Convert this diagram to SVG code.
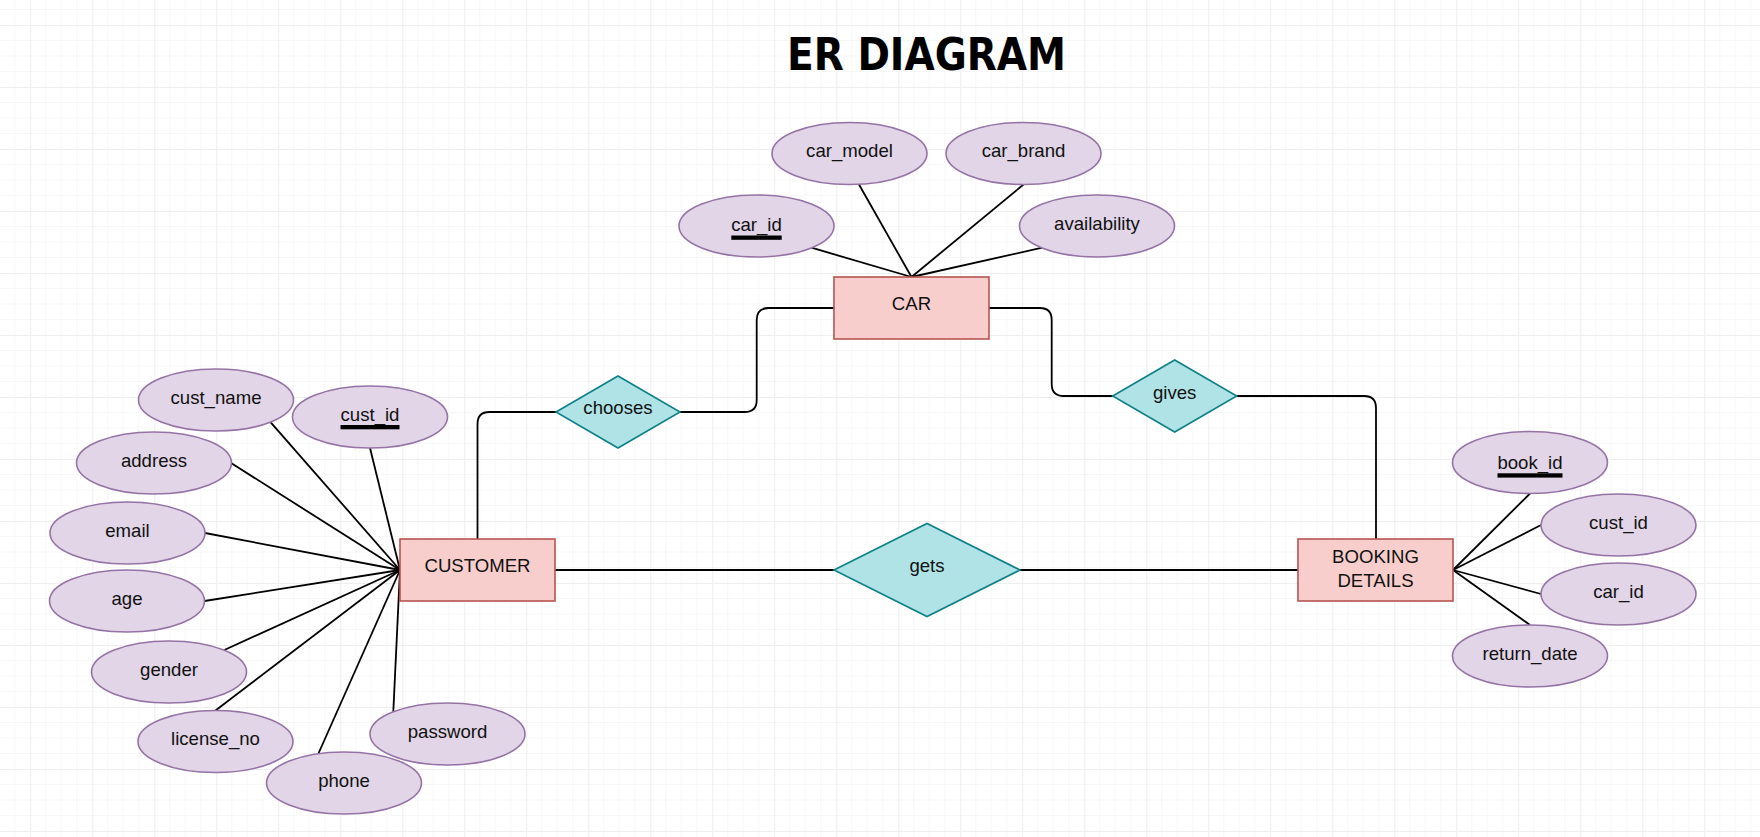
<svg xmlns="http://www.w3.org/2000/svg" width="1760" height="837" viewBox="0 0 1760 837">
  <defs>
    <pattern id="grid" x="30.3" y="25" width="62" height="62" patternUnits="userSpaceOnUse">
      <path d="M15.5,0 V62 M31,0 V62 M46.5,0 V62 M0,15.5 H62 M0,31 H62 M0,46.5 H62" stroke="#f7f7f7" stroke-width="1" fill="none"/>
      <path d="M0.5,0 V62 M0,0.5 H62" stroke="#eeeeee" stroke-width="1" fill="none"/>
    </pattern>
    <style>
      .ent { fill: #f8cecc; stroke: #b85450; stroke-width: 1.6; }
      .att { fill: #e1d5e7; stroke: #9673a6; stroke-width: 1.6; }
      .rel { fill: #b0e3e6; stroke: #0e8088; stroke-width: 1.6; }
      .lbl { font-family: "Liberation Sans", Arial, sans-serif; font-size: 18.6px; fill: #111; text-anchor: middle; }
      .pk { fill: #000; }
      .edge { fill: none; stroke: #000; stroke-width: 1.8; }
      .title { font-family: "DejaVu Sans Condensed", "DejaVu Sans", sans-serif; font-weight: bold; font-size: 45px; fill: #000; }
    </style>
  </defs>
  <rect width="1760" height="837" fill="#ffffff"/>
  <rect width="1760" height="837" fill="url(#grid)"/>

  <text class="title" x="787" y="70" textLength="279" lengthAdjust="spacingAndGlyphs">ER DIAGRAM</text>

  <g id="connectors">
    <!-- customer attributes -->
    <path class="edge" d="M400,570 L270.7,422.3"/>
    <path class="edge" d="M400,570 L370,448"/>
    <path class="edge" d="M400,570 L231.5,463.3"/>
    <path class="edge" d="M400,570 L205,533"/>
    <path class="edge" d="M400,570 L204.5,601"/>
    <path class="edge" d="M400,570 L224.3,650"/>
    <path class="edge" d="M400,570 L215.5,710.5"/>
    <path class="edge" d="M400,570 L318,754.5"/>
    <path class="edge" d="M400,570 L393.3,711.7"/>
    <!-- car attributes -->
    <path class="edge" d="M911.5,277 L811.5,247.7"/>
    <path class="edge" d="M911.5,277 L859,184.5"/>
    <path class="edge" d="M911.5,277 L1023.5,184.5"/>
    <path class="edge" d="M911.5,277 L1042.2,247.7"/>
    <!-- booking attributes -->
    <path class="edge" d="M1453,570 L1530,493.5"/>
    <path class="edge" d="M1453,570 L1541,525"/>
    <path class="edge" d="M1453,570 L1541,594"/>
    <path class="edge" d="M1453,570 L1530,625"/>
    <!-- relationships -->
    <path class="edge" d="M477.5,539 L477.5,424 Q477.5,412 489.5,412 L556,412"/>
    <path class="edge" d="M680,412 L744.7,412 Q756.7,412 756.7,400 L756.7,320 Q756.7,308 768.7,308 L834,308"/>
    <path class="edge" d="M989,308 L1039.7,308 Q1051.7,308 1051.7,320 L1051.7,384 Q1051.7,396 1063.7,396 L1112.7,396"/>
    <path class="edge" d="M1236.7,396 L1364,396 Q1376,396 1376,408 L1376,539"/>
    <path class="edge" d="M555,570 L834,570"/>
    <path class="edge" d="M1020,570 L1298,570"/>
  </g>

  <g id="customer">
    <rect class="ent" x="400" y="539" width="155" height="62"/>
    <text class="lbl" x="477.5" y="572">CUSTOMER</text>
  </g>
  <g id="car">
    <rect class="ent" x="834" y="277" width="155" height="62"/>
    <text class="lbl" x="911.5" y="310">CAR</text>
  </g>
  <g id="booking_details">
    <rect class="ent" x="1298" y="539" width="155" height="62"/>
    <text class="lbl" x="1375.5" y="563.3">BOOKING</text>
    <text class="lbl" x="1375.5" y="586.7">DETAILS</text>
  </g>

  <g id="chooses">
    <polygon class="rel" points="556,412 618,376 680,412 618,448"/>
    <text class="lbl" x="618" y="414">chooses</text>
  </g>
  <g id="gives">
    <polygon class="rel" points="1112.7,396 1174.7,360 1236.7,396 1174.7,432"/>
    <text class="lbl" x="1174.7" y="398.5">gives</text>
  </g>
  <g id="gets">
    <polygon class="rel" points="834,570 927,523.5 1020,570 927,616.5"/>
    <text class="lbl" x="927" y="572">gets</text>
  </g>

  <g id="attr_cust_name">
    <ellipse class="att" cx="216" cy="400" rx="77.5" ry="31"/>
    <text class="lbl" x="216" y="403.5">cust_name</text>
  </g>
  <g id="attr_cust_id">
    <ellipse class="att" cx="370" cy="417" rx="77.5" ry="31"/>
    <text class="lbl" x="370" y="421">cust_id</text>
    <rect class="pk" x="340.5" y="425" width="59" height="4.3"/>
  </g>
  <g id="attr_address">
    <ellipse class="att" cx="154" cy="463" rx="77.5" ry="31"/>
    <text class="lbl" x="154" y="466.5">address</text>
  </g>
  <g id="attr_email">
    <ellipse class="att" cx="127.5" cy="533" rx="77.5" ry="31"/>
    <text class="lbl" x="127.5" y="536.5">email</text>
  </g>
  <g id="attr_age">
    <ellipse class="att" cx="127" cy="601" rx="77.5" ry="31"/>
    <text class="lbl" x="127" y="604.5">age</text>
  </g>
  <g id="attr_gender">
    <ellipse class="att" cx="169" cy="672" rx="77.5" ry="31"/>
    <text class="lbl" x="169" y="675.5">gender</text>
  </g>
  <g id="attr_license_no">
    <ellipse class="att" cx="215.5" cy="741.5" rx="77.5" ry="31"/>
    <text class="lbl" x="215.5" y="745">license_no</text>
  </g>
  <g id="attr_phone">
    <ellipse class="att" cx="344" cy="783" rx="77.5" ry="31"/>
    <text class="lbl" x="344" y="786.5">phone</text>
  </g>
  <g id="attr_password">
    <ellipse class="att" cx="447.5" cy="734" rx="77.5" ry="31"/>
    <text class="lbl" x="447.5" y="737.5">password</text>
  </g>

  <g id="attr_car_id">
    <ellipse class="att" cx="756.5" cy="226" rx="77.5" ry="31"/>
    <text class="lbl" x="756.5" y="231">car_id</text>
    <rect class="pk" x="731.3" y="235.5" width="50.4" height="4.3"/>
  </g>
  <g id="attr_car_model">
    <ellipse class="att" cx="849.5" cy="153.5" rx="77.5" ry="31"/>
    <text class="lbl" x="849.5" y="157">car_model</text>
  </g>
  <g id="attr_car_brand">
    <ellipse class="att" cx="1023.5" cy="153.5" rx="77.5" ry="31"/>
    <text class="lbl" x="1023.5" y="157">car_brand</text>
  </g>
  <g id="attr_availability">
    <ellipse class="att" cx="1097" cy="226" rx="77.5" ry="31"/>
    <text class="lbl" x="1097" y="229.5">availability</text>
  </g>

  <g id="attr_book_id">
    <ellipse class="att" cx="1530" cy="462.5" rx="77.5" ry="31"/>
    <text class="lbl" x="1530" y="469">book_id</text>
    <rect class="pk" x="1497.5" y="473.3" width="65" height="4.3"/>
  </g>
  <g id="attr_booking_cust_id">
    <ellipse class="att" cx="1618.5" cy="525" rx="77.5" ry="31"/>
    <text class="lbl" x="1618.5" y="528.5">cust_id</text>
  </g>
  <g id="attr_booking_car_id">
    <ellipse class="att" cx="1618.5" cy="594" rx="77.5" ry="31"/>
    <text class="lbl" x="1618.5" y="597.5">car_id</text>
  </g>
  <g id="attr_return_date">
    <ellipse class="att" cx="1530" cy="656" rx="77.5" ry="31"/>
    <text class="lbl" x="1530" y="659.5">return_date</text>
  </g>
</svg>
